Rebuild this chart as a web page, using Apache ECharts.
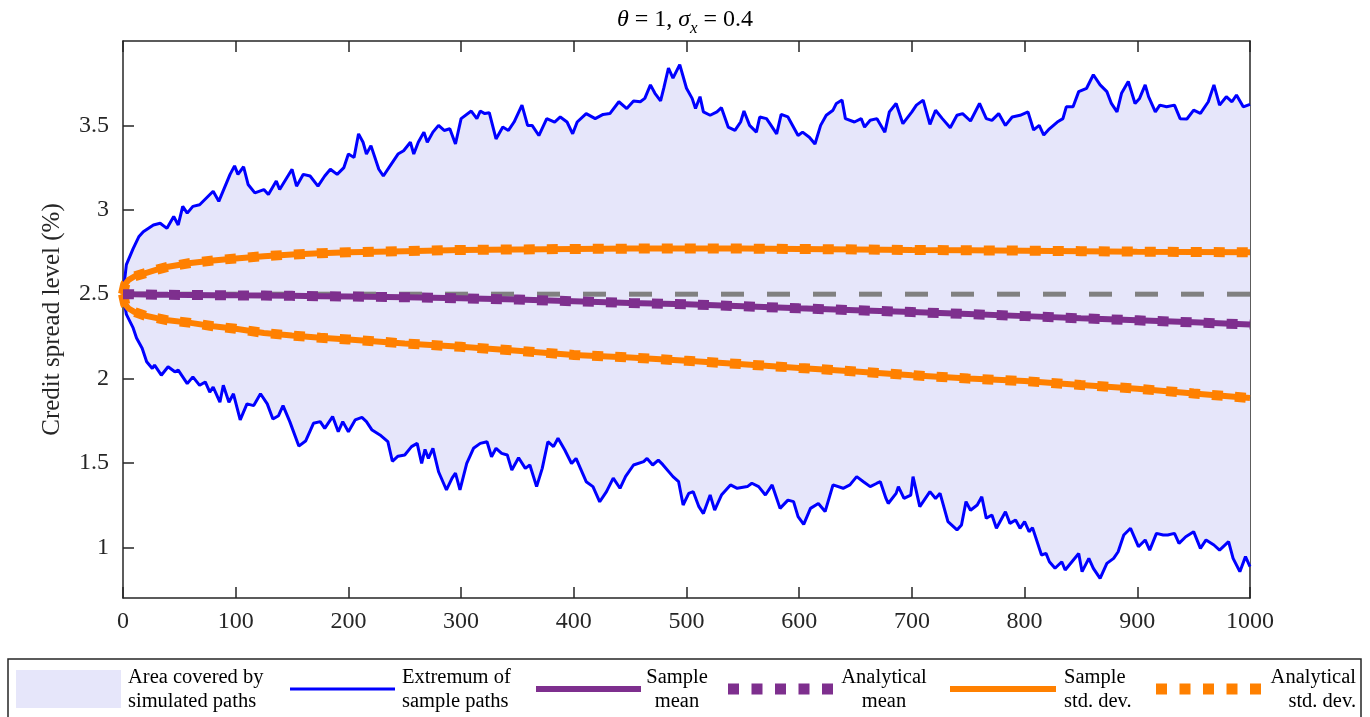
<!DOCTYPE html>
<html>
<head>
<meta charset="utf-8">
<script src="https://cdn.jsdelivr.net/npm/echarts@6/dist/echarts.min.js"></script>
<style>
  html, body { margin: 0; padding: 0; background: #fff; }
  #chart { width: 1370px; height: 717px; }
</style>
</head>
<body>
<div id="chart"></div>
<script>
// upper extremum of the simulated paths (time step, level %)
var upperT = [0, 3, 9, 14, 18, 27, 33, 39, 45, 49, 53, 57, 62, 68, 74, 80, 85, 95, 99, 102, 107, 111, 117, 125, 129, 136, 139, 150, 154, 160, 166, 173, 179, 184, 190, 196, 200, 205, 209, 213, 216, 220, 227, 231, 237, 244, 249, 255, 258, 262, 267, 270, 275, 280, 285, 290, 295, 300, 309, 314, 317, 321, 325, 331, 337, 342, 347, 354, 359, 363, 369, 376, 383, 388, 394, 399, 403, 411, 419, 426, 432, 440, 447, 453, 459, 463, 468, 472, 477, 480, 484, 488, 494, 500, 505, 508, 512, 515, 521, 527, 531, 537, 543, 548, 551, 556, 562, 565, 571, 574, 580, 584, 590, 599, 603, 609, 614, 619, 624, 630, 633, 638, 641, 649, 655, 658, 663, 669, 676, 680, 686, 692, 700, 704, 710, 716, 721, 727, 734, 740, 745, 752, 760, 766, 771, 777, 783, 789, 796, 803, 808, 813, 817, 822, 829, 834, 837, 843, 848, 855, 861, 867, 873, 877, 882, 886, 892, 898, 902, 907, 910, 916, 920, 926, 933, 938, 944, 950, 956, 963, 968, 973, 979, 984, 988, 994, 1000];
var upperV = [2.50, 2.675, 2.77, 2.84, 2.87, 2.91, 2.92, 2.89, 2.96, 2.91, 3.02, 2.98, 3.02, 3.03, 3.07, 3.11, 3.05, 3.21, 3.26, 3.21, 3.255, 3.15, 3.10, 3.12, 3.09, 3.17, 3.12, 3.24, 3.14, 3.21, 3.20, 3.14, 3.20, 3.24, 3.21, 3.25, 3.33, 3.31, 3.45, 3.40, 3.33, 3.38, 3.24, 3.20, 3.26, 3.33, 3.35, 3.40, 3.33, 3.40, 3.46, 3.40, 3.46, 3.50, 3.47, 3.48, 3.39, 3.54, 3.585, 3.54, 3.585, 3.57, 3.575, 3.42, 3.49, 3.47, 3.52, 3.62, 3.50, 3.50, 3.44, 3.54, 3.52, 3.55, 3.52, 3.45, 3.52, 3.57, 3.54, 3.565, 3.57, 3.64, 3.60, 3.645, 3.64, 3.66, 3.74, 3.69, 3.645, 3.725, 3.84, 3.78, 3.86, 3.72, 3.66, 3.60, 3.67, 3.58, 3.56, 3.58, 3.605, 3.49, 3.47, 3.52, 3.585, 3.50, 3.46, 3.55, 3.54, 3.51, 3.45, 3.565, 3.55, 3.44, 3.46, 3.43, 3.39, 3.50, 3.56, 3.59, 3.63, 3.65, 3.54, 3.52, 3.54, 3.49, 3.53, 3.54, 3.46, 3.58, 3.63, 3.51, 3.58, 3.62, 3.65, 3.506, 3.59, 3.54, 3.486, 3.56, 3.57, 3.526, 3.63, 3.54, 3.53, 3.57, 3.50, 3.55, 3.56, 3.58, 3.473, 3.50, 3.443, 3.48, 3.52, 3.54, 3.61, 3.61, 3.70, 3.72, 3.80, 3.74, 3.70, 3.63, 3.58, 3.69, 3.76, 3.63, 3.66, 3.74, 3.67, 3.58, 3.62, 3.61, 3.62, 3.54, 3.538, 3.59, 3.571, 3.64, 3.74, 3.62, 3.67, 3.64, 3.68, 3.61, 3.625];

// lower extremum of the simulated paths
var lowerT = [0, 3, 9, 12, 17, 21, 26, 28, 34, 40, 46, 49, 57, 62, 68, 73, 77, 80, 86, 89, 94, 98, 104, 110, 116, 122, 128, 133, 138, 142, 148, 156, 162, 169, 175, 179, 186, 191, 195, 200, 206, 212, 216, 221, 228, 235, 239, 244, 250, 256, 261, 265, 268, 271, 275, 280, 287, 292, 295, 299, 305, 311, 317, 323, 327, 331, 336, 341, 345, 351, 357, 361, 367, 372, 377, 382, 386, 392, 398, 402, 411, 417, 423, 429, 435, 441, 446, 453, 462, 465, 470, 475, 479, 488, 493, 497, 502, 506, 511, 515, 521, 525, 531, 539, 545, 554, 558, 564, 570, 576, 583, 590, 595, 599, 604, 610, 617, 623, 630, 639, 645, 651, 657, 663, 669, 672, 677, 679, 686, 688, 693, 699, 701, 707, 716, 721, 725, 732, 740, 744, 748, 752, 758, 762, 766, 771, 775, 783, 787, 792, 796, 800, 804, 807, 815, 819, 822, 827, 833, 836, 842, 848, 851, 857, 861, 867, 873, 879, 883, 888, 894, 901, 907, 911, 917, 923, 927, 933, 937, 943, 950, 956, 961, 968, 973, 981, 985, 991, 996, 1000];
var lowerV = [2.50, 2.38, 2.30, 2.24, 2.18, 2.10, 2.06, 2.08, 2.02, 2.07, 2.04, 2.05, 1.97, 2.01, 1.96, 1.98, 1.92, 1.95, 1.86, 1.96, 1.86, 1.91, 1.755, 1.85, 1.84, 1.91, 1.85, 1.76, 1.78, 1.84, 1.745, 1.60, 1.63, 1.735, 1.745, 1.705, 1.775, 1.685, 1.745, 1.685, 1.755, 1.77, 1.745, 1.695, 1.666, 1.626, 1.51, 1.54, 1.547, 1.597, 1.616, 1.497, 1.58, 1.527, 1.587, 1.448, 1.34, 1.41, 1.44, 1.34, 1.497, 1.587, 1.616, 1.626, 1.537, 1.587, 1.557, 1.547, 1.458, 1.531, 1.468, 1.488, 1.36, 1.468, 1.626, 1.597, 1.646, 1.577, 1.497, 1.527, 1.389, 1.36, 1.27, 1.33, 1.41, 1.35, 1.42, 1.488, 1.508, 1.527, 1.488, 1.517, 1.49, 1.419, 1.389, 1.251, 1.32, 1.33, 1.241, 1.20, 1.31, 1.221, 1.31, 1.37, 1.35, 1.36, 1.38, 1.36, 1.31, 1.37, 1.231, 1.28, 1.271, 1.182, 1.136, 1.231, 1.26, 1.212, 1.37, 1.35, 1.37, 1.419, 1.389, 1.36, 1.38, 1.389, 1.29, 1.26, 1.32, 1.36, 1.29, 1.31, 1.419, 1.241, 1.33, 1.29, 1.32, 1.152, 1.103, 1.133, 1.271, 1.22, 1.251, 1.30, 1.172, 1.192, 1.113, 1.211, 1.142, 1.162, 1.113, 1.152, 1.093, 1.117, 0.955, 0.964, 0.915, 0.876, 0.915, 0.866, 0.915, 0.964, 0.856, 0.935, 0.876, 0.816, 0.905, 0.935, 0.974, 1.073, 1.113, 1.004, 1.044, 0.984, 1.083, 1.073, 1.073, 1.083, 1.024, 1.063, 1.093, 0.994, 1.044, 1.014, 0.984, 1.034, 0.935, 0.856, 0.945, 0.886];

// mean and mean +/- one standard deviation
var smoothT = [0, 2, 5, 10, 20, 30, 40, 60, 80, 100, 125, 150, 175, 200, 250, 300, 350, 400, 450, 500, 550, 600, 650, 700, 750, 800, 850, 900, 950, 1000];
var sampleMean = [2.5, 2.5, 2.5, 2.499, 2.498, 2.497, 2.496, 2.495, 2.494, 2.493, 2.492, 2.49, 2.488, 2.486, 2.482, 2.476, 2.468, 2.458, 2.448, 2.44, 2.428, 2.416, 2.405, 2.394, 2.382, 2.37, 2.357, 2.345, 2.333, 2.32];
var analyticalMean = [2.5, 2.5, 2.5, 2.499, 2.498, 2.497, 2.496, 2.495, 2.494, 2.493, 2.492, 2.49, 2.488, 2.486, 2.482, 2.476, 2.468, 2.458, 2.448, 2.44, 2.428, 2.416, 2.405, 2.394, 2.382, 2.37, 2.357, 2.345, 2.333, 2.32];
var sampleStdUp = [2.5, 2.56, 2.585, 2.605, 2.625, 2.645, 2.663, 2.685, 2.70, 2.712, 2.725, 2.735, 2.743, 2.748, 2.755, 2.762, 2.765, 2.768, 2.77, 2.771, 2.77, 2.768, 2.765, 2.762, 2.76, 2.758, 2.755, 2.752, 2.75, 2.748];
var sampleStdDown = [2.5, 2.44, 2.415, 2.395, 2.372, 2.358, 2.345, 2.33, 2.31, 2.295, 2.27, 2.255, 2.242, 2.232, 2.208, 2.188, 2.165, 2.14, 2.125, 2.105, 2.085, 2.063, 2.042, 2.02, 2.0, 1.985, 1.962, 1.94, 1.912, 1.885];
var analyticalStdUp = [2.5, 2.56, 2.585, 2.605, 2.625, 2.645, 2.663, 2.685, 2.70, 2.712, 2.725, 2.735, 2.743, 2.748, 2.755, 2.762, 2.765, 2.768, 2.77, 2.771, 2.77, 2.768, 2.765, 2.762, 2.76, 2.758, 2.755, 2.752, 2.75, 2.748];
var analyticalStdDown = [2.5, 2.44, 2.415, 2.395, 2.372, 2.358, 2.345, 2.33, 2.31, 2.295, 2.27, 2.255, 2.242, 2.232, 2.208, 2.188, 2.165, 2.14, 2.125, 2.105, 2.085, 2.063, 2.042, 2.02, 2.0, 1.985, 1.962, 1.94, 1.912, 1.885];

// initial level (dashed reference)
var levelT = [0, 1000];
var levelV = [2.5, 2.5];

var yTicks = [1, 1.5, 2, 2.5, 3, 3.5];

function pairs(ts, vs) {
    return ts.map(function (t, i) { return [t, vs[i]]; });
}

var FONT = 'Liberation Serif';
var INK = '#262626';
var BLUE = '#0000FF';
var PURPLE = '#7E2F8E';
var ORANGE = '#FF8000';
var AREA = '#E6E6FA';
var LEGEND_FONT = '20.5px "Liberation Serif"';

var chart = echarts.init(document.getElementById('chart'));

function xAx(pos, showLabel) {
    return {
        type: 'value', min: 0, max: 1000, interval: 100, position: pos,
        axisLine: { show: true, onZero: false, lineStyle: { color: INK, width: 1.5 } },
        axisTick: { show: true, inside: true, length: 11, lineStyle: { color: INK, width: 1.5 } },
        axisLabel: {
            show: showLabel, margin: 12, fontFamily: FONT, fontSize: 24, color: INK,
            formatter: function (v) { return String(v); }
        },
        splitLine: { show: false }
    };
}
function yAx(pos, showLabel) {
    var ax = {
        type: 'value', min: 0.7, max: 4, position: pos,
        axisLine: { show: true, onZero: false, lineStyle: { color: INK, width: 1.5 } },
        axisTick: { show: true, inside: true, length: 11, customValues: yTicks, lineStyle: { color: INK, width: 1.5 } },
        axisLabel: { show: showLabel, customValues: yTicks, margin: 14, fontFamily: FONT, fontSize: 24, color: INK },
        splitLine: { show: false }
    };
    if (showLabel) {
        ax.name = 'Credit spread level (%)';
        ax.nameLocation = 'middle';
        ax.nameGap = 58;
        ax.nameTextStyle = { fontFamily: FONT, fontSize: 25, color: INK };
    }
    return ax;
}

var option = {
    animation: false,
    backgroundColor: '#fff',
    title: {
        text: '{i|θ}{n| = 1, }{i|σ}{s|x}{n| = 0.4}',
        left: 'center',
        top: 3,
        textStyle: {
            fontWeight: 'normal',
            rich: {
                i: { fontFamily: FONT, fontStyle: 'italic', fontWeight: 'normal', fontSize: 24, color: '#000', lineHeight: 24, verticalAlign: 'top' },
                n: { fontFamily: FONT, fontWeight: 'normal', fontSize: 24, color: '#000', lineHeight: 24, verticalAlign: 'top' },
                s: { fontFamily: FONT, fontStyle: 'italic', fontWeight: 'normal', fontSize: 17, color: '#000', lineHeight: 17, padding: [12, 0, 0, 0], verticalAlign: 'top' }
            }
        }
    },
    grid: { left: 123, right: 120, top: 41, bottom: 119 },
    xAxis: [xAx('bottom', true), xAx('top', false)],
    yAxis: [yAx('left', true), yAx('right', false)],
    series: [
        {
            name: 'Area covered by simulated paths',
            type: 'custom',
            data: [0],
            silent: true,
            renderItem: function (params, api) {
                var pts = [];
                upperT.forEach(function (t, i) { pts.push(api.coord([t, upperV[i]])); });
                for (var i = lowerT.length - 1; i >= 0; i--) {
                    pts.push(api.coord([lowerT[i], lowerV[i]]));
                }
                return { type: 'polygon', shape: { points: pts }, style: { fill: AREA } };
            },
            z: 1
        },
        {
            name: 'Extremum of sample paths', type: 'line', data: pairs(upperT, upperV),
            symbol: 'none', lineStyle: { color: BLUE, width: 3 }, z: 2
        },
        {
            name: 'Extremum of sample paths', type: 'line', data: pairs(lowerT, lowerV),
            symbol: 'none', lineStyle: { color: BLUE, width: 3 }, z: 2
        },
        {
            name: 'level', type: 'line', data: pairs(levelT, levelV),
            symbol: 'none', lineStyle: { color: '#808080', width: 5, type: [23, 23], cap: 'butt' }, z: 3
        },
        {
            name: 'Sample std. dev.', type: 'line', data: pairs(smoothT, sampleStdUp),
            symbol: 'none', lineStyle: { color: ORANGE, width: 6 }, z: 4
        },
        {
            name: 'Sample std. dev.', type: 'line', data: pairs(smoothT, sampleStdDown),
            symbol: 'none', lineStyle: { color: ORANGE, width: 6 }, z: 4
        },
        {
            name: 'Analytical std. dev.', type: 'line', data: pairs(smoothT, analyticalStdUp),
            symbol: 'none', lineStyle: { color: ORANGE, width: 10, type: [11, 12], cap: 'butt' }, z: 5
        },
        {
            name: 'Analytical std. dev.', type: 'line', data: pairs(smoothT, analyticalStdDown),
            symbol: 'none', lineStyle: { color: ORANGE, width: 10, type: [11, 12], cap: 'butt' }, z: 5
        },
        {
            name: 'Sample mean', type: 'line', data: pairs(smoothT, sampleMean),
            symbol: 'none', lineStyle: { color: PURPLE, width: 6 }, z: 6
        },
        {
            name: 'Analytical mean', type: 'line', data: pairs(smoothT, analyticalMean),
            symbol: 'none', lineStyle: { color: PURPLE, width: 10, type: [11, 12], cap: 'butt' }, z: 7
        }
    ],
    // legend box drawn by hand, matlab style
    graphic: [
        { type: 'rect', shape: { x: 8, y: 659, width: 1353, height: 70 }, style: { fill: '#fff', stroke: INK, lineWidth: 1.5 } },
        { type: 'rect', shape: { x: 16, y: 670, width: 105, height: 38 }, style: { fill: AREA } },
        { type: 'text', style: { text: 'Area covered by\nsimulated paths', x: 128, y: 690, font: LEGEND_FONT, fill: '#000', align: 'left', verticalAlign: 'middle', lineHeight: 24 } },
        { type: 'line', shape: { x1: 290, y1: 689, x2: 395, y2: 689 }, style: { stroke: BLUE, lineWidth: 3 } },
        { type: 'text', style: { text: 'Extremum of\nsample paths', x: 402, y: 690, font: LEGEND_FONT, fill: '#000', align: 'left', verticalAlign: 'middle', lineHeight: 24 } },
        { type: 'line', shape: { x1: 536, y1: 689, x2: 641, y2: 689 }, style: { stroke: PURPLE, lineWidth: 6 } },
        { type: 'text', style: { text: 'Sample\nmean', x: 677, y: 690, font: LEGEND_FONT, fill: '#000', align: 'center', verticalAlign: 'middle', lineHeight: 24 } },
        { type: 'line', shape: { x1: 728, y1: 689, x2: 833, y2: 689 }, style: { stroke: PURPLE, lineWidth: 11, lineDash: [11, 12.5] } },
        { type: 'text', style: { text: 'Analytical\nmean', x: 884, y: 690, font: LEGEND_FONT, fill: '#000', align: 'center', verticalAlign: 'middle', lineHeight: 24 } },
        { type: 'line', shape: { x1: 950, y1: 689, x2: 1056, y2: 689 }, style: { stroke: ORANGE, lineWidth: 6 } },
        { type: 'text', style: { text: 'Sample\nstd. dev.', x: 1064, y: 690, font: LEGEND_FONT, fill: '#000', align: 'left', verticalAlign: 'middle', lineHeight: 24 } },
        { type: 'line', shape: { x1: 1156, y1: 689, x2: 1261, y2: 689 }, style: { stroke: ORANGE, lineWidth: 11, lineDash: [11, 12.5] } },
        { type: 'text', style: { text: 'Analytical\nstd. dev.', x: 1356, y: 690, font: LEGEND_FONT, fill: '#000', align: 'right', verticalAlign: 'middle', lineHeight: 24 } }
    ]
};

chart.setOption(option);
</script>
</body>
</html>
